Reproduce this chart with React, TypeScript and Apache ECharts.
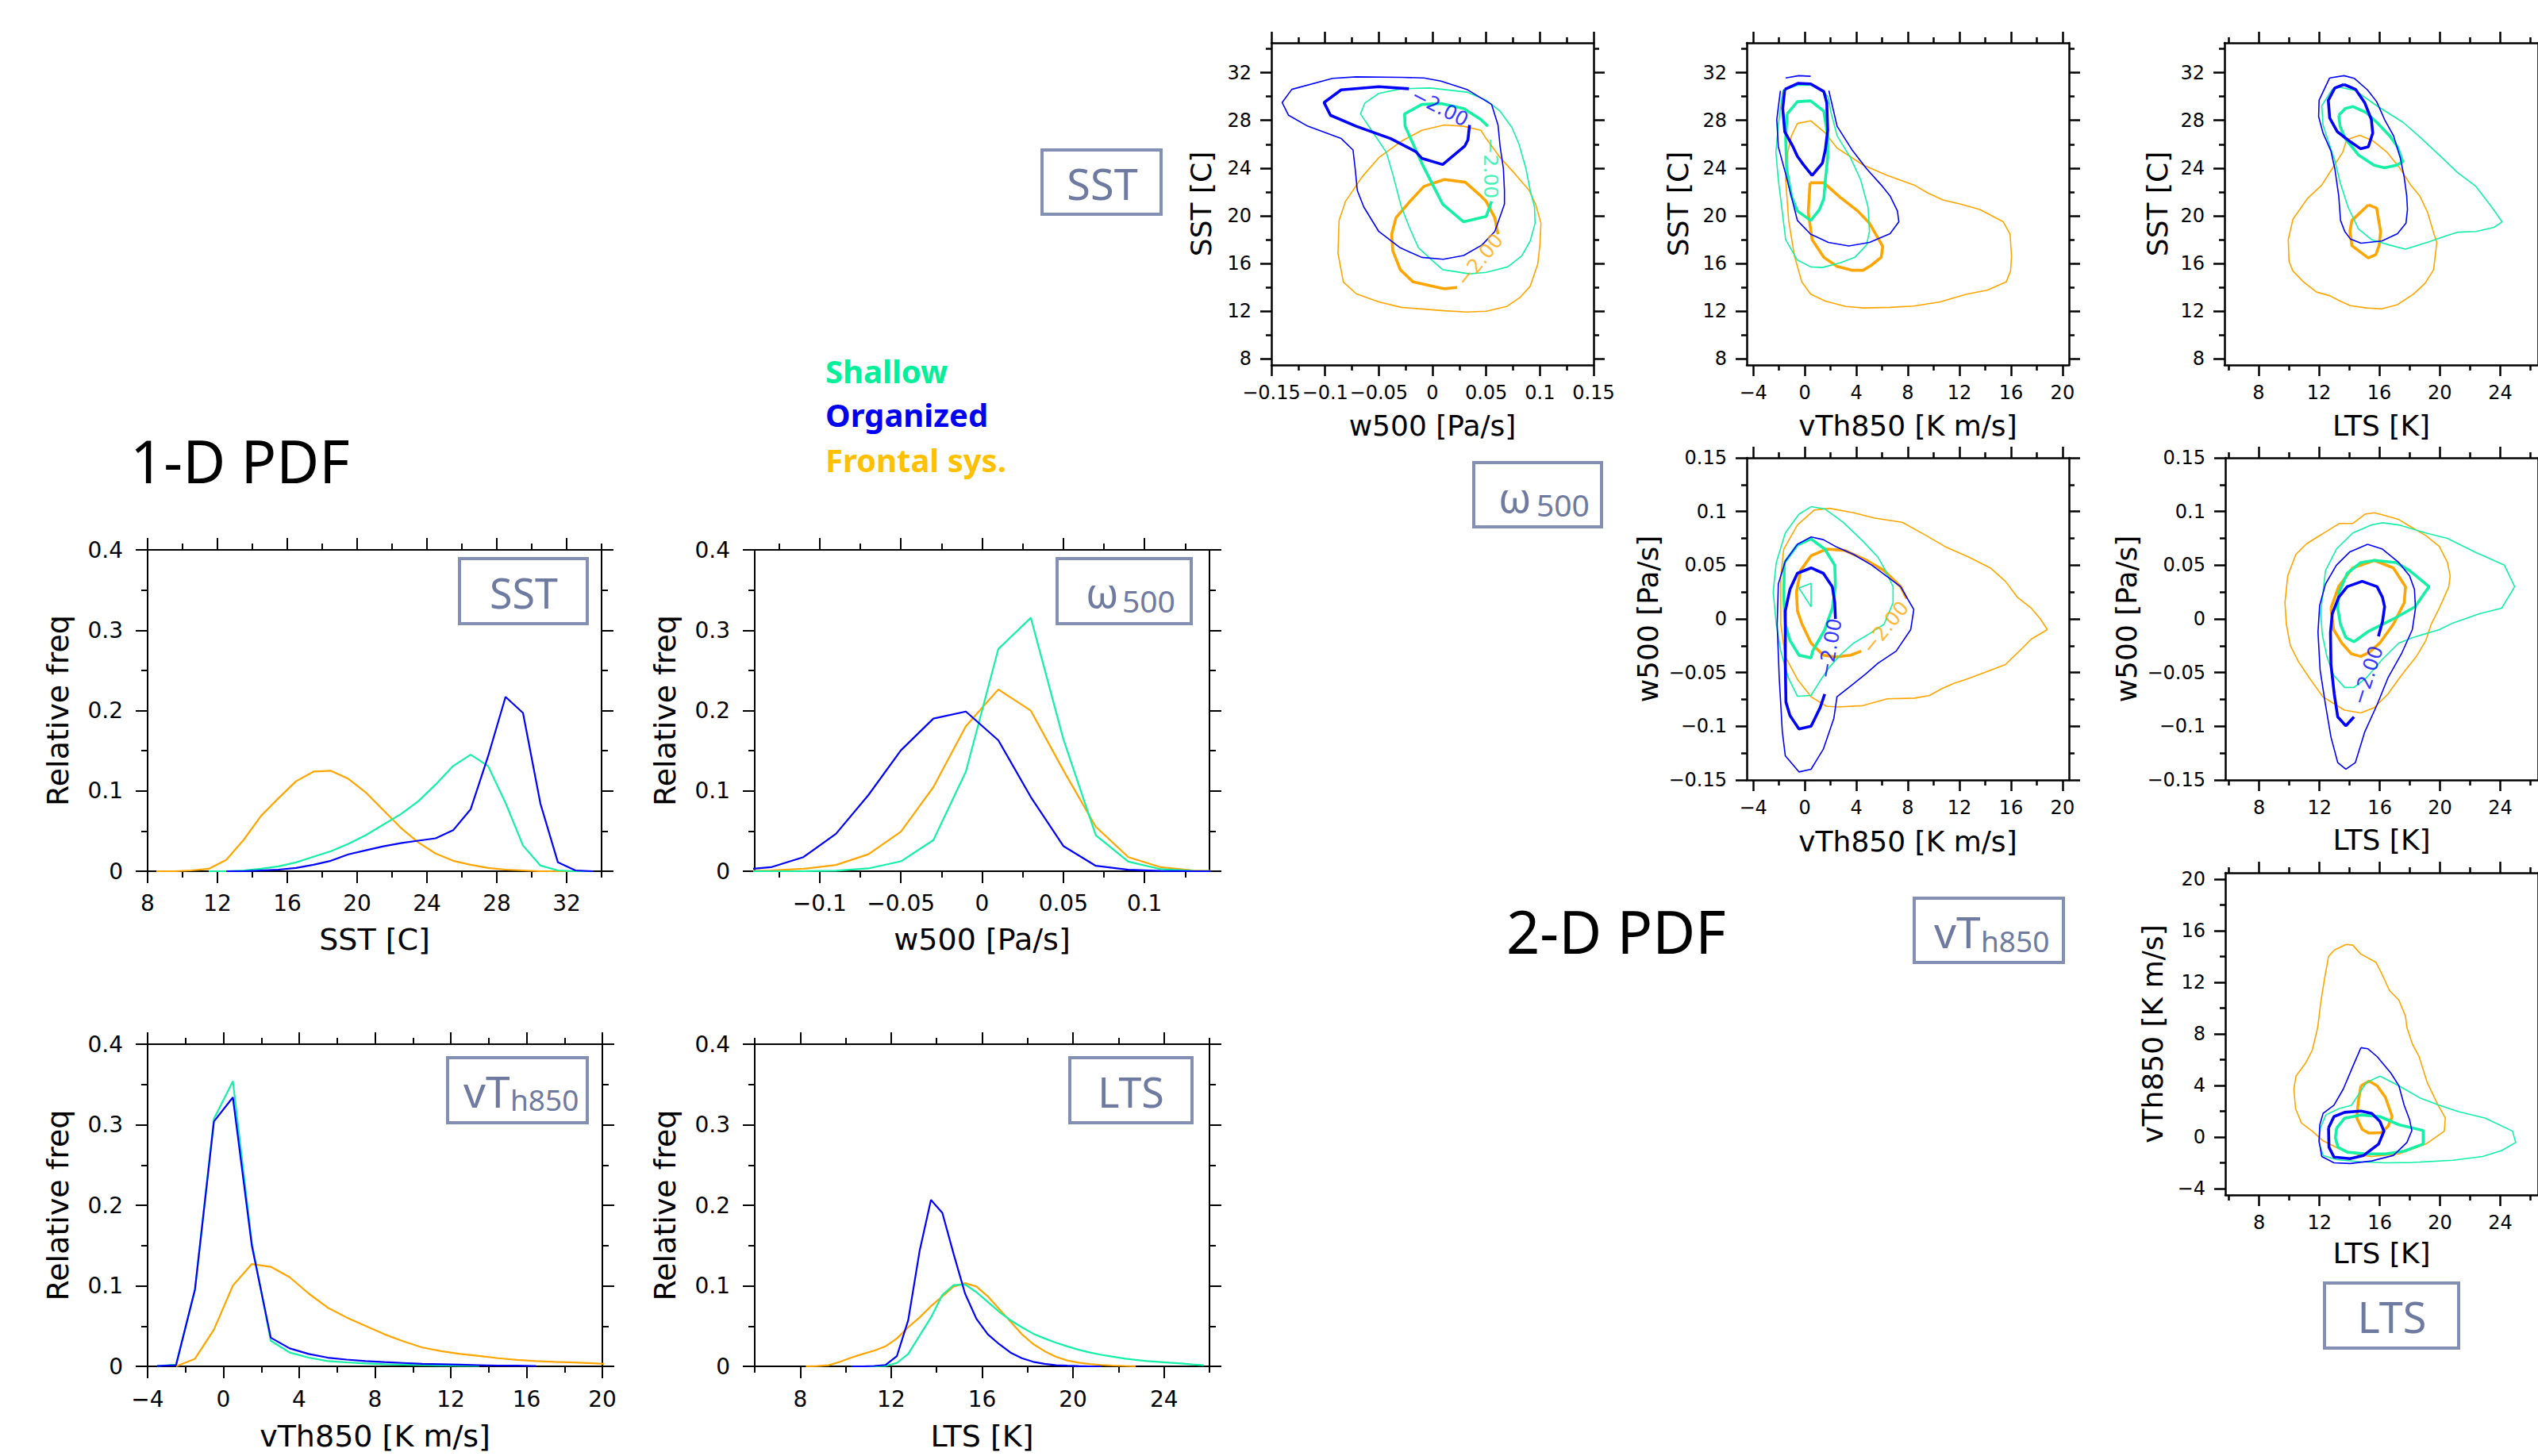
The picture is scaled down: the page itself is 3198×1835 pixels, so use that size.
import React, { useEffect, useRef } from 'react';
import * as echarts from 'echarts';

// ---------- colours & fonts ----------
const COL_SHALLOW = '#14F0A4';
const COL_ORG = '#0000FF';
const COL_FRONT = '#FFA500';
const TXT_SHALLOW = '#00F09A';
const TXT_ORG = '#0000F0';
const TXT_FRONT = '#FFC000';
const BOX_STROKE = '#8390B4';
const BOX_TEXT = '#6E7AA0';
const FONT_AXIS = '"DejaVu Sans", sans-serif';
const FONT_SLIDE = '"Noto Sans", sans-serif';

// ---------- labels ----------
const legendNames = ['Shallow', 'Organized', 'Frontal sys.'];
const contourLabel = '\u22122.00';

// ---------- tick values ----------
const relMajor = [0, 0.1, 0.2, 0.3, 0.4];
const relMinor = [0.05, 0.15, 0.25, 0.35];
const sstMajor = [8, 12, 16, 20, 24, 28, 32];
const sstMinor = [10, 14, 18, 22, 26, 30, 34];
const w500Major1D = [-0.1, -0.05, 0, 0.05, 0.1];
const w500Major2D = [-0.15, -0.1, -0.05, 0, 0.05, 0.1, 0.15];
const w500Minor = [-0.125, -0.075, -0.025, 0.025, 0.075, 0.125];
const vthMajor = [-4, 0, 4, 8, 12, 16, 20];
const vthMinor = [-2, 2, 6, 10, 14, 18];
const ltsMajor = [8, 12, 16, 20, 24, 28];
const ltsMinor = [6, 10, 14, 18, 22, 26];

// ---------- 1-D PDF data ----------
const sstX = [8.5, 9.5, 10.5, 11.5, 12.5, 13.5, 14.5, 15.5, 16.5, 17.5, 18.5, 19.5, 20.5, 21.5, 22.5, 23.5, 24.5, 25.5, 26.5, 27.5, 28.5, 29.5, 30.5, 31.5, 32.5, 33.5];
const sstFrontal = [0, 0, 0.001, 0.003, 0.014, 0.039, 0.069, 0.091, 0.112, 0.124, 0.125, 0.115, 0.098, 0.076, 0.054, 0.036, 0.022, 0.013, 0.008, 0.004, 0.002, 0.001, 0, 0, 0, 0];
const sstShallow = [null, null, null, 0, 0, 0.001, 0.003, 0.006, 0.011, 0.018, 0.025, 0.034, 0.045, 0.058, 0.071, 0.087, 0.108, 0.131, 0.145, 0.131, 0.085, 0.032, 0.007, 0.001, 0, 0];
const sstOrganized = [null, null, null, null, 0, 0, 0.001, 0.002, 0.004, 0.008, 0.013, 0.021, 0.026, 0.031, 0.035, 0.038, 0.041, 0.051, 0.077, 0.143, 0.217, 0.197, 0.084, 0.011, 0.001, 0];

const w500X = [-0.15, -0.13, -0.11, -0.09, -0.07, -0.05, -0.03, -0.01, 0.01, 0.03, 0.05, 0.07, 0.09, 0.11, 0.13, 0.15];
const w500Frontal = [0, 0.001, 0.003, 0.0078, 0.0211, 0.0493, 0.1047, 0.1804, 0.2263, 0.1998, 0.1258, 0.0553, 0.0176, 0.005, 0.001, 0];
const w500Shallow = [0, 0, 0, 0.0007, 0.0035, 0.0123, 0.0388, 0.124, 0.2767, 0.3154, 0.1646, 0.0448, 0.012, 0.0025, 0.0005, 0];
const w500Organized = [0.0014, 0.005, 0.0176, 0.0465, 0.0948, 0.1505, 0.19, 0.1988, 0.163, 0.0923, 0.0314, 0.0067, 0.0018, 0.0004, 0, 0];

const vthX = [-3.5, -2.5, -1.5, -0.5, 0.5, 1.5, 2.5, 3.5, 4.5, 5.5, 6.5, 7.5, 8.5, 9.5, 10.5, 11.5, 12.5, 13.5, 14.5, 15.5, 16.5, 17.5, 18.5, 19.5, 20.5];
const vthFrontal = [null, 0, 0.0094, 0.0457, 0.1002, 0.127, 0.1236, 0.1106, 0.0904, 0.073, 0.0607, 0.0503, 0.0398, 0.0311, 0.0234, 0.0188, 0.0154, 0.0129, 0.0101, 0.008, 0.0066, 0.0056, 0.0049, 0.0038, 0.0025];
const vthShallow = [0.0005, 0.002, 0.095, 0.3075, 0.354, 0.153, 0.0318, 0.0171, 0.0108, 0.0066, 0.0049, 0.0035, 0.0025, 0.002, 0.0015, 0.001, 0.0008, 0.0005, null, null, null, null, null, null, null];
const vthOrganized = [0.0005, 0.0014, 0.0956, 0.304, 0.334, 0.15, 0.0356, 0.0223, 0.0154, 0.0108, 0.0084, 0.0066, 0.0052, 0.0042, 0.003, 0.0025, 0.002, 0.0015, 0.001, 0.0008, 0.0005, null, null, null, null];

const ltsX = [8.25, 8.75, 9.25, 9.75, 10.25, 10.75, 11.25, 11.75, 12.25, 12.75, 13.25, 13.75, 14.25, 14.75, 15.25, 15.75, 16.25, 16.75, 17.25, 17.75, 18.25, 18.75, 19.25, 19.75, 20.25, 20.75, 21.25, 21.75, 22.25, 22.75, 23.25, 23.75, 24.25, 24.75, 25.25, 25.75];
const ltsFrontal = [0, 0.0003, 0.0014, 0.0056, 0.0108, 0.0154, 0.0195, 0.0248, 0.0346, 0.0485, 0.0607, 0.0747, 0.0869, 0.0991, 0.1033, 0.0991, 0.0869, 0.0712, 0.0555, 0.0398, 0.0276, 0.0188, 0.0119, 0.0073, 0.0045, 0.0028, 0.0017, 0.001, 0.0005, 0.0002, null, null, null, null, null, null];
const ltsShallow = [null, null, null, null, 0, 0, 0, 0.0005, 0.0042, 0.0154, 0.038, 0.0607, 0.0887, 0.1009, 0.1016, 0.0921, 0.0799, 0.0677, 0.0572, 0.0485, 0.0405, 0.0346, 0.0293, 0.0248, 0.0206, 0.0171, 0.0143, 0.0119, 0.0098, 0.008, 0.0066, 0.0056, 0.0045, 0.0035, 0.0024, 0.0014];
const ltsOrganized = [null, null, null, null, 0, 0, 0.0005, 0.0017, 0.0126, 0.0572, 0.143, 0.2066, 0.1906, 0.1393, 0.0904, 0.059, 0.0398, 0.0276, 0.0171, 0.0101, 0.0056, 0.003, 0.0015, 0.0008, 0.0003, 0, 0, null, null, null, null, null, null, null, null, null];

// ---------- 2-D PDF contours ----------
// Panel A: x = w500, y = SST
const aOrgThin = [[-0.093, 31.52], [-0.131, 30.6], [-0.14, 29.5], [-0.134, 28.43], [-0.116, 27.51], [-0.085, 26.48], [-0.074, 25.52], [-0.072, 23.96], [-0.07, 22.13], [-0.064, 20.75], [-0.05, 18.69], [-0.03, 17.32], [-0.01, 16.52], [0.01, 16.36], [0.029, 16.68], [0.046, 17.55], [0.058, 18.69], [0.063, 19.95], [0.067, 20.98], [0.067, 22.13], [0.066, 23.96], [0.063, 25.79], [0.061, 27.62], [0.055, 29.34], [0.032, 30.6], [0.008, 31.29], [-0.008, 31.56], [-0.029, 31.61], [-0.071, 31.65]];
const aOrgThick = [[0.0345, 27.62], [0.033, 26.37], [0.03, 25.84], [0.0095, 24.3], [-0.01, 24.83], [-0.0155, 25.38], [-0.039, 26.48], [-0.071, 27.51], [-0.095, 28.43], [-0.101, 29.5], [-0.085, 30.56], [-0.05, 30.83], [-0.022, 30.65]];
const aShThin = [[-0.05, 30.26], [-0.063, 29.46], [-0.067, 28.54], [-0.055, 26.94], [-0.043, 25.33], [-0.037, 23.5], [-0.029, 20.75], [-0.021, 18.92], [-0.013, 17.32], [-0.002, 16.4], [0.0095, 15.49], [0.0345, 15.14], [0.05, 15.26], [0.07, 15.72], [0.083, 16.63], [0.091, 17.89], [0.0955, 19.38], [0.095, 20.75], [0.091, 22.13], [0.087, 23.96], [0.0805, 26.02], [0.074, 27.4], [0.063, 28.77], [0.05, 29.69], [0.032, 30.37], [-0.002, 30.72], [-0.029, 30.65]];
const aShThick = [[0.0516, 27.51], [0.045, 28.08], [0.029, 29.0], [0.008, 29.41], [-0.01, 29.34], [-0.026, 28.54], [-0.0255, 27.51], [-0.018, 26.02], [-0.01, 24.42], [-0.001, 22.82], [0.0095, 20.98], [0.029, 19.5], [0.05, 19.95], [0.055, 21.21]];
const aFrThin = [[0.011, 27.62], [-0.01, 27.17], [-0.029, 26.25], [-0.05, 24.88], [-0.0655, 23.27], [-0.081, 21.21], [-0.087, 19.61], [-0.088, 16.86], [-0.083, 14.46], [-0.071, 13.47], [-0.05, 12.79], [-0.029, 12.33], [0.011, 12.05], [0.032, 11.94], [0.05, 12.01], [0.069, 12.4], [0.082, 13.2], [0.091, 14.11], [0.098, 15.95], [0.1, 17.55], [0.101, 19.38], [0.096, 20.98], [0.09, 22.13], [0.077, 23.5], [0.063, 24.88], [0.05, 26.48], [0.045, 27.17], [0.029, 27.51]];
const aFrThick = [[0.061, 18.46], [0.058, 19.84], [0.05, 21.21], [0.045, 21.67], [0.0305, 22.82], [0.011, 23.04], [-0.008, 22.47], [-0.021, 21.21], [-0.034, 19.84], [-0.038, 18.46], [-0.037, 17.09], [-0.03, 15.49], [-0.018, 14.46], [0.011, 13.89], [0.023, 14.0]];
const aLabels = [[0.007, 29.1, -27, 'org'], [0.054, 24.0, -90, 'sh'], [0.044, 16.3, 51, 'fr']];

// Panel B: x = vTh850, y = SST
const bOrgThin = [[-1.89, 30.49], [-2.17, 28.08], [-2.05, 25.79], [-1.48, 23.5], [-0.57, 19.61], [0.46, 18.46], [1.83, 17.78], [3.42, 17.48], [5.02, 17.78], [6.62, 18.51], [7.3, 19.5], [7.19, 20.41], [6.62, 21.67], [5.93, 22.59], [4.79, 23.96], [3.65, 25.56], [2.51, 27.51], [1.87, 30.49]];
const bOrgThinTop = [[-1.48, 31.56], [-0.46, 31.75], [0.46, 31.7]];
const bOrgThick = [[-1.55, 30.6], [-0.5, 31.11], [0.46, 31.06], [1.48, 30.42], [1.71, 29.46], [1.78, 27.17], [1.6, 25.56], [1.37, 24.42], [0.57, 23.39], [-0.11, 24.3], [-0.57, 24.99], [-0.91, 25.79], [-1.55, 27.05], [-1.71, 29.0]];
const bShThin = [[-1.71, 30.49], [-2.05, 27.62], [-2.24, 25.33], [-2.05, 23.04], [-1.48, 18.0], [-0.57, 16.29], [0.46, 15.72], [1.37, 15.67], [2.74, 16.06], [3.88, 16.52], [4.79, 17.55], [5.02, 18.69], [4.91, 20.75], [4.33, 23.04], [3.54, 24.88], [2.51, 26.71], [2.01, 28.77], [1.83, 29.91], [1.48, 30.42], [0.46, 30.95], [-0.57, 30.95], [-1.48, 30.6]];
const bShThick = [[-1.37, 28.54], [-0.57, 29.57], [0.46, 29.64], [1.48, 28.77], [1.78, 26.71], [1.78, 24.88], [1.6, 23.04], [1.48, 21.44], [1.14, 20.53], [0.46, 19.61], [-0.57, 20.41], [-1.03, 21.67], [-1.41, 23.96], [-1.48, 26.48]];
const bFrThin = [[-0.57, 27.74], [0.46, 27.97], [1.6, 26.94], [2.51, 25.68], [4.56, 24.24], [6.39, 23.39], [8.56, 22.54], [9.58, 21.9], [10.72, 21.33], [12.09, 20.98], [13.58, 20.53], [15.4, 19.5], [15.93, 18.46], [16.04, 16.63], [15.97, 15.37], [15.63, 14.46], [14.15, 13.77], [12.55, 13.43], [10.5, 12.79], [8.44, 12.44], [6.62, 12.33], [4.56, 12.28], [3.19, 12.4], [1.6, 12.85], [0.46, 13.43], [-0.23, 14.46], [-0.8, 16.63], [-1.25, 19.61], [-1.48, 23.04], [-1.32, 25.33], [-1.03, 26.71]];
const bFrThick = [[0.41, 22.77], [1.48, 22.77], [2.74, 21.56], [4.11, 20.41], [5.02, 19.38], [6.05, 17.43], [5.93, 16.52], [5.13, 15.83], [4.52, 15.44], [3.65, 15.44], [2.51, 15.76], [1.48, 16.52], [0.57, 18.01], [0.27, 20.3]];

// Panel C: x = LTS, y = SST
const cOrgThin = [[12.71, 31.56], [13.66, 31.75], [14.35, 31.52], [15.21, 30.56], [15.82, 29.57], [16.34, 28.08], [16.94, 26.71], [17.38, 24.88], [17.64, 23.27], [17.81, 21.67], [17.86, 20.53], [17.76, 19.38], [17.2, 18.51], [16.16, 17.89], [14.78, 17.71], [14.09, 18.05], [13.71, 18.69], [13.43, 19.61], [13.31, 21.67], [13.05, 23.96], [12.79, 25.45], [12.27, 26.94], [11.98, 28.31], [12.01, 29.69]];
const cOrgThick = [[13.66, 31.01], [14.43, 30.6], [15.04, 29.46], [15.47, 28.08], [15.56, 26.94], [15.27, 25.79], [14.75, 25.63], [14.09, 26.2], [13.22, 27.05], [12.71, 28.2], [12.62, 29.69], [13.05, 30.72]];
const cShThin = [[12.88, 30.6], [13.4, 30.78], [14.43, 30.49], [15.82, 29.23], [17.55, 27.85], [18.59, 26.71], [20.14, 24.88], [21.18, 23.62], [22.39, 22.47], [23.43, 20.75], [24.12, 19.5], [23.6, 19.04], [22.39, 18.69], [21.18, 18.63], [20.49, 18.35], [19.28, 17.82], [17.72, 17.21], [16.68, 17.55], [15.47, 18.01], [14.61, 18.92], [13.92, 20.75], [13.4, 22.82], [13.05, 24.65], [12.62, 26.25], [12.27, 27.62], [12.19, 29.23]];
const cShThick = [[13.31, 28.43], [13.74, 29.0], [14.26, 29.16], [15.13, 28.65], [15.82, 27.85], [16.68, 26.71], [17.2, 25.79], [17.55, 24.53], [17.12, 24.24], [16.34, 24.03], [15.65, 24.24], [14.61, 25.11], [13.74, 26.48], [13.4, 27.51]];
const cFrThin = [[14.69, 26.75], [15.56, 26.3], [16.51, 25.33], [17.38, 23.96], [18.07, 22.59], [18.67, 21.67], [19.19, 20.3], [19.62, 18.46], [19.8, 17.78], [19.59, 15.49], [19.02, 14.34], [18.24, 13.43], [17.2, 12.56], [16.16, 12.21], [15.13, 12.28], [14.09, 12.47], [13.4, 12.85], [12.71, 13.31], [11.84, 13.61], [10.98, 14.46], [10.28, 15.37], [10.02, 16.18], [9.97, 18.01], [10.28, 19.72], [11.23, 21.44], [12.19, 22.59], [12.88, 23.96], [13.57, 25.33], [13.83, 26.37]];
const cFrThick = [[15.27, 20.92], [15.82, 20.64], [16.08, 18.69], [15.99, 17.55], [15.77, 16.75], [15.27, 16.47], [14.18, 17.5], [14.05, 18.69], [14.18, 19.61]];

// Panel D: x = vTh850, y = w500
const dOrgThin = [[-1.51, 0.0538], [-0.57, 0.0695], [0.49, 0.0763], [1.44, 0.0738], [2.38, 0.0675], [3.79, 0.06], [5.21, 0.05], [7.44, 0.03], [7.91, 0.02], [8.46, 0.0088], [8.22, -0.01], [7.09, -0.03], [5.68, -0.0413], [4.73, -0.0513], [3.56, -0.0625], [2.5, -0.0725], [2.26, -0.0925], [1.44, -0.1213], [0.49, -0.14], [-0.45, -0.1425], [-1.51, -0.1275], [-1.74, -0.105], [-1.98, -0.055], [-2.14, -0.005], [-2.05, 0.0325]];
const dOrgThick = [[2.38, 0.0], [2.33, 0.015], [2.14, 0.03], [1.44, 0.0425], [0.49, 0.0475], [-0.57, 0.0425], [-1.15, 0.0275], [-1.51, 0.0075], [-1.51, -0.0425], [-1.46, -0.0775], [-1.15, -0.09], [-0.45, -0.1025], [0.49, -0.1], [1.2, -0.0825], [1.55, -0.07]];
const dShThin = [[-1.51, 0.08], [-0.45, 0.0975], [0.49, 0.1045], [1.55, 0.1025], [2.97, 0.09], [4.5, 0.0725], [5.68, 0.0575], [6.26, 0.045], [6.85, 0.03], [6.85, 0.015], [6.15, -0.005], [5.2, -0.0125], [3.79, -0.0225], [2.85, -0.0325], [1.91, -0.045], [1.2, -0.0575], [0.49, -0.0713], [-0.57, -0.072], [-1.27, -0.055], [-1.86, -0.03], [-2.21, -0.005], [-2.45, 0.025], [-2.21, 0.0525]];
const dShThick = [[-1.58, 0.0525], [-0.57, 0.0688], [0.49, 0.0745], [1.55, 0.065], [2.33, 0.05], [2.38, 0.03], [2.14, 0.01], [1.55, -0.01], [0.61, -0.03], [0.49, -0.0363], [-0.45, -0.0338], [-1.15, -0.02], [-1.51, -0.005], [-1.63, 0.02]];
const dShTri = [[-0.45, 0.0288], [0.49, 0.033], [0.49, 0.0113]];
const dFrThin = [[-0.57, 0.0875], [-1.63, 0.065], [-1.86, 0.04], [-1.86, -0.005], [-1.51, -0.035], [-0.57, -0.0563], [0.49, -0.0725], [1.67, -0.0813], [2.5, -0.082], [4.5, -0.0808], [6.38, -0.0745], [8.5, -0.0738], [9.68, -0.0713], [10.62, -0.065], [11.56, -0.06], [12.51, -0.0563], [13.92, -0.05], [15.57, -0.0425], [16.86, -0.0275], [17.57, -0.0188], [18.82, -0.01], [18.28, 0], [17.57, 0.01], [16.51, 0.02], [15.57, 0.035], [14.39, 0.0475], [12.74, 0.0575], [10.86, 0.0675], [9.44, 0.0775], [7.56, 0.09], [5.44, 0.0938], [3.79, 0.0988], [1.91, 0.103], [0.73, 0.1013]];
const dFrThick = [[7.91, 0.0188], [7.44, 0.03], [6.15, 0.045], [4.73, 0.055], [3.09, 0.0638], [1.67, 0.065], [0.49, 0.0588], [-0.33, 0.045], [-0.64, 0.025], [-0.57, 0.0075], [-0.21, -0.005], [0.49, -0.0225], [1.44, -0.0338], [2.38, -0.0355], [3.56, -0.0338], [4.38, -0.03]];
const dLabels = [[1.95, -0.0275, 80, 'org'], [6.26, -0.008, 51, 'fr']];

// Panel E: x = LTS, y = w500
const eOrgThin = [[15.19, 0.0695], [16.18, 0.065], [17.26, 0.0525], [17.98, 0.04], [18.3, 0.0275], [18.37, 0.01], [18.16, -0.01], [17.44, -0.0325], [16.54, -0.055], [15.82, -0.08], [15.01, -0.105], [14.38, -0.1338], [13.75, -0.14], [13.21, -0.1338], [12.76, -0.11], [12.4, -0.08], [12.04, -0.0475], [11.9, -0.0125], [12.01, 0.0125], [12.4, 0.0325], [13.12, 0.05], [14.02, 0.0625]];
const eOrgThick = [[15.91, -0.0163], [16.18, -0.0025], [16.32, 0.0113], [16.18, 0.02], [15.82, 0.03], [14.83, 0.035], [13.84, 0.03], [13.27, 0.02], [12.85, 0.005], [12.73, -0.0125], [12.76, -0.0425], [12.98, -0.07], [13.21, -0.0913], [13.75, -0.0995], [14.29, -0.0913]];
const eShThin = [[12.19, 0.02], [12.4, 0.045], [13.12, 0.065], [14.2, 0.08], [15.46, 0.0875], [16.18, 0.0895], [17.26, 0.0875], [19.06, 0.08], [20.49, 0.075], [22.29, 0.0625], [24.27, 0.05], [24.95, 0.03], [24.09, 0.01], [22.65, 0.005], [20.85, -0.0038], [19.95, -0.01], [18.16, -0.0175], [17.26, -0.0225], [16.18, -0.0375], [15.1, -0.055], [14.29, -0.0638], [13.66, -0.0638], [12.94, -0.0525], [12.49, -0.035], [12.19, -0.015], [12.08, 0.005]];
const eShThick = [[13.3, 0.025], [13.84, 0.0425], [14.74, 0.0525], [15.64, 0.0545], [17.08, 0.0525], [17.98, 0.045], [19.27, 0.03], [18.34, 0.0113], [17.08, 0.0013], [16.18, -0.005], [15.28, -0.0113], [14.29, -0.0213], [13.75, -0.0175], [13.39, -0.005], [13.21, 0.01]];
const eFrThin = [[14.2, 0.0888], [15.01, 0.0975], [15.64, 0.0988], [16.36, 0.0963], [17.26, 0.0925], [18.16, 0.085], [19.06, 0.0775], [19.95, 0.0675], [20.49, 0.0525], [20.67, 0.04], [20.58, 0.03], [19.95, 0.01], [19.41, -0.005], [19.06, -0.02], [18.43, -0.035], [17.44, -0.0525], [16.54, -0.07], [15.64, -0.0825], [14.74, -0.0875], [13.66, -0.085], [12.22, -0.0725], [11.33, -0.055], [10.61, -0.04], [10.07, -0.025], [9.8, -0.005], [9.71, 0.015], [9.89, 0.04], [10.43, 0.06], [11.15, 0.07], [11.86, 0.0763], [12.58, 0.0825], [13.3, 0.0888]];
const eFrThick = [[12.76, 0.01], [13.27, 0.03], [14.2, 0.0475], [15.64, 0.0545], [16.9, 0.0475], [17.71, 0.03], [17.62, 0.015], [16.9, -0.005], [16.0, -0.0225], [15.28, -0.0313], [14.74, -0.035], [14.11, -0.0325], [13.48, -0.0225], [12.94, -0.01]];
const eLabels = [[15.19, -0.0525, 72, 'org']];

// Panel F: x = LTS, y = vTh850
const fOrgThin = [[14.75, 6.93], [15.2, 6.85], [15.83, 6.23], [16.73, 4.97], [17.27, 3.97], [17.62, 2.46], [17.98, 1.33], [18.13, 0.5], [17.8, -0.43], [16.91, -1.43], [15.47, -1.86], [14.03, -2.06], [12.96, -2.01], [12.15, -1.51], [11.97, -0.3], [12.02, 0.95], [12.24, 1.83], [12.96, 2.46], [13.58, 3.72], [14.21, 5.47]];
const fOrgThick = [[12.6, 0.7], [12.96, 1.58], [13.67, 1.91], [14.75, 2.01], [15.47, 1.83], [16.01, 1.21], [16.28, 0.45], [15.92, -0.55], [14.93, -1.43], [14.03, -1.68], [12.96, -1.56], [12.63, -0.8]];
const fShThin = [[16.01, 4.72], [17.27, 3.97], [18.7, 3.01], [19.96, 2.46], [21.22, 1.96], [23.01, 1.46], [24.81, 0.45], [25.02, -0.43], [24.09, -1.05], [22.83, -1.51], [20.86, -1.81], [18.16, -1.98], [16.37, -2.01], [14.75, -1.93], [13.14, -1.76], [12.24, -1.43], [11.97, -0.43], [12.06, 0.7], [12.42, 1.71], [13.32, 2.21], [14.12, 2.46], [15.11, 4.22]];
const fShThick = [[13.14, 0.7], [13.67, 1.46], [14.75, 1.71], [16.01, 1.58], [17.27, 0.95], [18.88, 0.5], [18.88, -0.55], [17.62, -1.1], [16.37, -1.31], [15.11, -1.31], [13.85, -1.18], [13.23, -0.8], [13.05, -0.05]];
const fFrThin = [[13.76, 14.94], [14.21, 14.89], [14.72, 14.21], [15.74, 13.56], [16.1, 12.75], [16.64, 11.37], [17.27, 10.62], [17.71, 9.36], [17.8, 8.49], [18.16, 7.23], [18.61, 6.23], [19.15, 4.22], [19.87, 2.46], [20.35, 1.46], [20.28, 0.45], [19.06, -0.55], [17.27, -1.31], [15.47, -1.51], [14.75, -1.43], [13.32, -0.93], [12.24, -0.3], [11.52, 0.45], [10.8, 1.08], [10.41, 2.21], [10.3, 3.72], [10.44, 4.72], [11.07, 5.72], [11.52, 6.73], [11.88, 8.49], [12.09, 10.49], [12.33, 12.25], [12.6, 14.01], [12.99, 14.51]];
const fFrThick = [[14.75, 3.97], [15.29, 4.34], [15.83, 3.97], [16.37, 3.09], [16.82, 1.58], [16.55, 0.83], [16.1, 0.33], [15.29, 0.3], [14.84, 0.58], [14.48, 1.46], [14.57, 2.71]];

// ---------- helpers ----------
const fmt = (v: number) => {
  const r = Math.round(v * 1000) / 1000;
  if (r === 0) return '0';
  return (r < 0 ? '\u2212' : '') + String(Math.abs(r));
};
const zip = (xs: number[], ys: (number | null)[]) => {
  const out: number[][] = [];
  xs.forEach((x, i) => { const y = ys[i]; if (y !== null && y !== undefined) out.push([x, y]); });
  return out;
};
const closed = (pts: number[][]) => pts.concat([pts[0]]);
const colorOf: Record<string, string> = { org: COL_ORG, sh: COL_SHALLOW, fr: COL_FRONT };

interface AxisSpec { min: number; max: number; major: number[]; minor: number[]; name: string; nameGap: number; labelMargin: number; }
interface PanelSpec { left: number; top: number; width: number; height: number; x: AxisSpec; y: AxisSpec; labelSize: number; nameSize: number; tickLen: number; minorLen: number; lineW: number; }

function buildOption() {
  const grid: any[] = [];
  const xAxis: any[] = [];
  const yAxis: any[] = [];
  const series: any[] = [];

  const addPanel = (p: PanelSpec) => {
    const gi = grid.length;
    grid.push({ left: p.left, top: p.top, width: p.width, height: p.height, show: false, containLabel: false });
    const ls = { color: '#000', width: p.lineW };
    const mk = (a: AxisSpec, pos: string, major: boolean, labels: boolean) => ({
      type: 'value', gridIndex: gi, position: pos, min: a.min, max: a.max, offset: 0,
      axisLine: { show: major, onZero: false, lineStyle: ls },
      axisTick: { show: true, inside: false, length: major ? p.tickLen : p.minorLen, lineStyle: ls, customValues: major ? a.major : a.minor },
      axisLabel: labels
        ? { show: true, customValues: a.major, formatter: fmt, fontSize: p.labelSize, fontFamily: FONT_AXIS, color: '#000', margin: a.labelMargin }
        : { show: false },
      splitLine: { show: false }, splitArea: { show: false },
      minorTick: { show: false }, minorSplitLine: { show: false },
      name: labels ? a.name : '',
      nameLocation: 'middle', nameGap: a.nameGap,
      nameTextStyle: { fontSize: p.nameSize, fontFamily: FONT_AXIS, color: '#000' },
      silent: true, z: 1,
    });
    const xi = xAxis.length;
    xAxis.push(mk(p.x, 'bottom', true, true), mk(p.x, 'bottom', false, false), mk(p.x, 'top', true, false), mk(p.x, 'top', false, false));
    const yi = yAxis.length;
    yAxis.push(mk(p.y, 'left', true, true), mk(p.y, 'left', false, false), mk(p.y, 'right', true, false), mk(p.y, 'right', false, false));
    return { xi, yi };
  };

  const addLine = (ax: any, data: number[][], color: string, width: number, name?: string) => {
    series.push({
      type: 'line', name, xAxisIndex: ax.xi, yAxisIndex: ax.yi, data,
      symbol: 'none', showSymbol: false, smooth: false, clip: true, silent: true,
      lineStyle: { color, width }, itemStyle: { color }, z: 3, animation: false,
    });
  };
  const addLabels = (ax: any, labels: any[]) => {
    labels.forEach((l) => {
      series.push({
        type: 'scatter', xAxisIndex: ax.xi, yAxisIndex: ax.yi, data: [[l[0], l[1]]],
        symbolSize: 1, itemStyle: { color: 'rgba(0,0,0,0)' }, silent: true, z: 4,
        label: { show: true, position: 'inside', formatter: contourLabel, rotate: l[2], color: colorOf[l[3]], fontSize: 25, fontFamily: FONT_AXIS },
      });
    });
  };

  // ---- 1-D panels ----
  const p1 = { labelSize: 28, nameSize: 38, tickLen: 15, minorLen: 8, lineW: 2 };
  const yRel: AxisSpec = { min: 0, max: 0.4, major: relMajor, minor: relMinor, name: 'Relative freq', nameGap: 94, labelMargin: 31 };
  const s1 = addPanel({ ...p1, left: 186, top: 693, width: 572, height: 405, y: yRel,
    x: { min: 8, max: 34, major: sstMajor, minor: sstMinor, name: 'SST [C]', nameGap: 67, labelMargin: 26 } });
  addLine(s1, zip(sstX, sstFrontal), COL_FRONT, 2.2, legendNames[2]);
  addLine(s1, zip(sstX, sstShallow), COL_SHALLOW, 2.2, legendNames[0]);
  addLine(s1, zip(sstX, sstOrganized), COL_ORG, 2.2, legendNames[1]);

  const s2 = addPanel({ ...p1, left: 951, top: 693, width: 573, height: 405, y: yRel,
    x: { min: -0.14, max: 0.14, major: w500Major1D, minor: w500Minor, name: 'w500 [Pa/s]', nameGap: 67, labelMargin: 26 } });
  addLine(s2, zip(w500X, w500Frontal), COL_FRONT, 2.2, legendNames[2]);
  addLine(s2, zip(w500X, w500Shallow), COL_SHALLOW, 2.2, legendNames[0]);
  addLine(s2, zip(w500X, w500Organized), COL_ORG, 2.2, legendNames[1]);

  const s3 = addPanel({ ...p1, left: 186, top: 1316, width: 573, height: 406, y: yRel,
    x: { min: -4, max: 20, major: vthMajor, minor: vthMinor, name: 'vTh850 [K m/s]', nameGap: 69, labelMargin: 27 } });
  addLine(s3, zip(vthX, vthFrontal), COL_FRONT, 2.2, legendNames[2]);
  addLine(s3, zip(vthX, vthShallow), COL_SHALLOW, 2.2, legendNames[0]);
  addLine(s3, zip(vthX, vthOrganized), COL_ORG, 2.2, legendNames[1]);

  const s4 = addPanel({ ...p1, left: 951, top: 1316, width: 573, height: 406, y: yRel,
    x: { min: 6, max: 26, major: ltsMajor, minor: ltsMinor, name: 'LTS [K]', nameGap: 69, labelMargin: 27 } });
  addLine(s4, zip(ltsX, ltsFrontal), COL_FRONT, 2.2, legendNames[2]);
  addLine(s4, zip(ltsX, ltsShallow), COL_SHALLOW, 2.2, legendNames[0]);
  addLine(s4, zip(ltsX, ltsOrganized), COL_ORG, 2.2, legendNames[1]);

  // ---- 2-D panels ----
  const p2 = { labelSize: 24, nameSize: 36, tickLen: 14, minorLen: 7, lineW: 2.5 };
  const TH = 1.6, TK = 3.6;
  const ySst = (gap: number): AxisSpec => ({ min: 7.5, max: 34.5, major: sstMajor, minor: sstMinor, name: 'SST [C]', nameGap: gap, labelMargin: 25 });
  const yW = (gap: number): AxisSpec => ({ min: -0.15, max: 0.15, major: w500Major2D, minor: w500Minor, name: 'w500 [Pa/s]', nameGap: gap, labelMargin: 25 });
  const xVth = (gap: number): AxisSpec => ({ min: -4.5, max: 20.5, major: vthMajor, minor: vthMinor, name: 'vTh850 [K m/s]', nameGap: gap, labelMargin: 23 });
  const xLts = (gap: number): AxisSpec => ({ min: 5.75, max: 26.5, major: ltsMajor, minor: ltsMinor, name: 'LTS [K]', nameGap: gap, labelMargin: 23 });

  const A = addPanel({ ...p2, left: 1602, top: 54, width: 406, height: 406, y: ySst(71),
    x: { min: -0.15, max: 0.15, major: w500Major2D, minor: w500Minor, name: 'w500 [Pa/s]', nameGap: 58, labelMargin: 23 } });
  addLine(A, closed(aFrThin), COL_FRONT, TH); addLine(A, aFrThick, COL_FRONT, TK);
  addLine(A, closed(aShThin), COL_SHALLOW, TH); addLine(A, aShThick, COL_SHALLOW, TK);
  addLine(A, closed(aOrgThin), COL_ORG, TH); addLine(A, aOrgThick, COL_ORG, TK);
  addLabels(A, aLabels);

  const B = addPanel({ ...p2, left: 2201, top: 54, width: 406, height: 406, y: ySst(69), x: xVth(58) });
  addLine(B, closed(bFrThin), COL_FRONT, TH); addLine(B, closed(bFrThick), COL_FRONT, TK);
  addLine(B, closed(bShThin), COL_SHALLOW, TH); addLine(B, closed(bShThick), COL_SHALLOW, TK);
  addLine(B, bOrgThin, COL_ORG, TH); addLine(B, bOrgThinTop, COL_ORG, TH); addLine(B, closed(bOrgThick), COL_ORG, TK);

  const Cp = addPanel({ ...p2, left: 2803, top: 54, width: 412, height: 406, y: ySst(67), x: xLts(58) });
  addLine(Cp, closed(cFrThin), COL_FRONT, TH); addLine(Cp, closed(cFrThick), COL_FRONT, TK);
  addLine(Cp, closed(cShThin), COL_SHALLOW, TH); addLine(Cp, closed(cShThick), COL_SHALLOW, TK);
  addLine(Cp, closed(cOrgThin), COL_ORG, TH); addLine(Cp, closed(cOrgThick), COL_ORG, TK);

  const D = addPanel({ ...p2, left: 2201, top: 577, width: 406, height: 406, y: yW(107), x: xVth(59) });
  addLine(D, closed(dFrThin), COL_FRONT, TH); addLine(D, dFrThick, COL_FRONT, TK);
  addLine(D, closed(dShThin), COL_SHALLOW, TH); addLine(D, closed(dShThick), COL_SHALLOW, TK); addLine(D, closed(dShTri), COL_SHALLOW, TH);
  addLine(D, closed(dOrgThin), COL_ORG, TH); addLine(D, dOrgThick, COL_ORG, TK);
  addLabels(D, dLabels);

  const E = addPanel({ ...p2, left: 2804, top: 577, width: 412, height: 406, y: yW(107), x: xLts(57) });
  addLine(E, closed(eFrThin), COL_FRONT, TH); addLine(E, closed(eFrThick), COL_FRONT, TK);
  addLine(E, closed(eShThin), COL_SHALLOW, TH); addLine(E, closed(eShThick), COL_SHALLOW, TK);
  addLine(E, closed(eOrgThin), COL_ORG, TH); addLine(E, eOrgThick, COL_ORG, TK);
  addLabels(E, eLabels);

  const F = addPanel({ ...p2, left: 2804, top: 1100, width: 412, height: 406, x: xLts(55),
    y: { min: -4.5, max: 20.5, major: vthMajor, minor: vthMinor, name: 'vTh850 [K m/s]', nameGap: 74, labelMargin: 25 } });
  addLine(F, closed(fFrThin), COL_FRONT, TH); addLine(F, closed(fFrThick), COL_FRONT, TK);
  addLine(F, closed(fShThin), COL_SHALLOW, TH); addLine(F, closed(fShThick), COL_SHALLOW, TK);
  addLine(F, closed(fOrgThin), COL_ORG, TH); addLine(F, closed(fOrgThick), COL_ORG, TK);

  // ---- annotations ----
  const txt = (text: string, x: number, y: number, size: number, color: string, weight = 'normal', align = 'left', z = 101) => ({
    type: 'text', x, y, z, silent: true,
    style: { text, fill: color, fontSize: size, fontFamily: FONT_SLIDE, fontWeight: weight, align, verticalAlign: 'middle', textAlign: align, textVerticalAlign: 'middle' },
  });
  const box = (x0: number, y0: number, x1: number, y1: number) => ({
    type: 'rect', z: 100, silent: true,
    shape: { x: x0, y: y0, width: x1 - x0, height: y1 - y0 },
    style: { fill: '#FFFFFF', stroke: BOX_STROKE, lineWidth: 4 },
  });

  const graphic: any[] = [
    txt('1-D PDF', 164, 580, 74, '#000'),
    txt('2-D PDF', 1898, 1173, 74, '#000'),
    txt(legendNames[0], 1040, 467, 40, TXT_SHALLOW, 'bold'),
    txt(legendNames[1], 1040, 522, 40, TXT_ORG, 'bold'),
    txt(legendNames[2], 1040, 579, 40, TXT_FRONT, 'bold'),
    // 1-D boxes
    box(579, 704, 740, 786), txt('SST', 660, 746, 52, BOX_TEXT, 'normal', 'center', 102),
    box(1332, 704, 1501, 786), txt('\u03C9', 1368, 745, 52, BOX_TEXT, 'normal', 'left', 102), txt('500', 1414, 756, 39, BOX_TEXT, 'normal', 'left', 102),
    box(564, 1333, 740, 1415), txt('vT', 584, 1374, 55, BOX_TEXT, 'normal', 'left', 102), txt('h850', 643, 1385, 37, BOX_TEXT, 'normal', 'left', 102),
    box(1348, 1333, 1502, 1415), txt('LTS', 1425, 1375, 52, BOX_TEXT, 'normal', 'center', 102),
    // 2-D boxes
    box(1313, 189, 1463, 270), txt('SST', 1389, 231, 54, BOX_TEXT, 'normal', 'center', 102),
    box(1857, 583, 2018, 664), txt('\u03C9', 1888, 625, 52, BOX_TEXT, 'normal', 'left', 102), txt('500', 1936, 635, 39, BOX_TEXT, 'normal', 'left', 102),
    box(2412, 1132, 2600, 1213), txt('vT', 2437, 1173, 55, BOX_TEXT, 'normal', 'left', 102), txt('h850', 2496, 1185, 37, BOX_TEXT, 'normal', 'left', 102),
    box(2929, 1617, 3098, 1699), txt('LTS', 3014, 1659, 54, BOX_TEXT, 'normal', 'center', 102),
  ];

  return {
    animation: false,
    backgroundColor: '#FFFFFF',
    grid, xAxis, yAxis, series, graphic,
    tooltip: { show: false },
  };
}

export default function App() {
  const ref = useRef<HTMLDivElement>(null);
  useEffect(() => {
    if (!ref.current) return;
    const chart = echarts.init(ref.current, undefined, { renderer: 'svg' });
    chart.setOption(buildOption() as any);
    return () => chart.dispose();
  }, []);
  return (
    <div
      ref={ref}
      style={{ position: 'absolute', left: 0, top: 0, width: 3198, height: 1835, background: '#fff' }}
    />
  );
}
